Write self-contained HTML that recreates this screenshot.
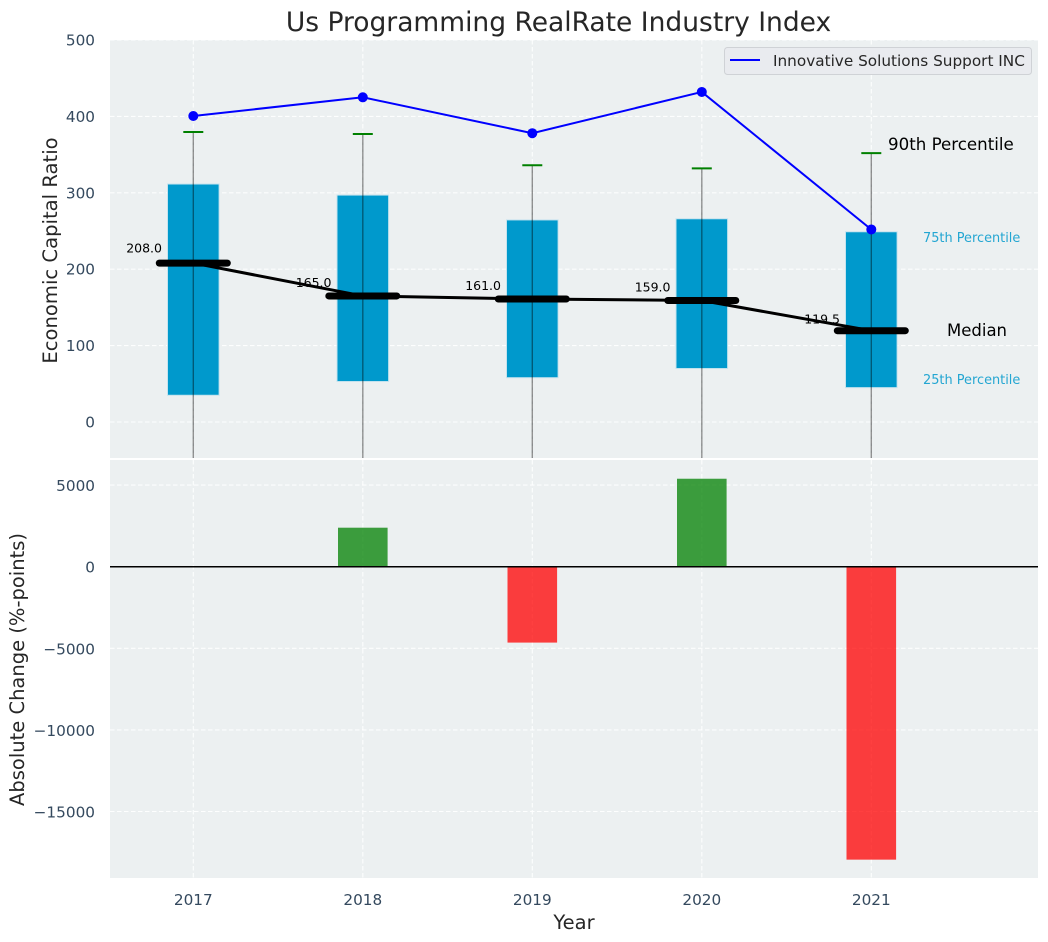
<!DOCTYPE html>
<html lang="en">
<head>
<meta charset="utf-8">
<title>Us Programming RealRate Industry Index</title>
<style>
html,body{margin:0;padding:0;background:#fff;}
svg{display:block;font-family:"DejaVu Sans","Liberation Sans",sans-serif;}
</style>
</head>
<body>
<svg id="chart" xmlns="http://www.w3.org/2000/svg" width="1048" height="942" viewBox="0 0 1048 942">
  <defs>
    <clipPath id="clip-top"><rect x="110" y="40" width="928" height="418"/></clipPath>
    <clipPath id="clip-bottom"><rect x="110" y="460" width="928" height="418"/></clipPath>
  </defs>
  <rect x="0" y="0" width="1048" height="942" fill="#ffffff"/>
  <rect x="110" y="40" width="928" height="418" fill="#ecf0f1"/>
  <rect x="110" y="460" width="928" height="418" fill="#ecf0f1"/>
  <g id="grid-layer"></g>
  <g id="top-layer" clip-path="url(#clip-top)"></g>
  <g id="bottom-layer" clip-path="url(#clip-bottom)"></g>
  <g id="tick-layer"></g>
  <g id="value-label-layer"></g>

  <text x="558.5" y="31" font-size="26.5px" text-anchor="middle" fill="#262626">Us Programming RealRate Industry Index</text>
  <text transform="translate(57,250.5) rotate(-90)" font-size="19.6px" text-anchor="middle" fill="#262626">Economic Capital Ratio</text>
  <text transform="translate(24,669.5) rotate(-90)" font-size="19.5px" text-anchor="middle" fill="#262626">Absolute Change (%-points)</text>
  <text x="574" y="929" font-size="19.5px" text-anchor="middle" fill="#262626">Year</text>

  <text x="888" y="150" font-size="16.67px" fill="#000000">90th Percentile</text>
  <text x="923" y="242" font-size="12.9px" fill="#0099cc" fill-opacity="0.85">75th Percentile</text>
  <text x="947" y="336" font-size="16.5px" fill="#000000">Median</text>
  <text x="923" y="384" font-size="12.9px" fill="#0099cc" fill-opacity="0.85">25th Percentile</text>

  <g>
    <rect x="724.5" y="47.5" width="307" height="27" rx="3" fill="#e9ebef" stroke="#cfd2d6" stroke-width="1"/>
    <line x1="730" y1="60" x2="760" y2="60" stroke="#0000ff" stroke-width="2"/>
    <text x="773" y="66" font-size="15.28px" fill="#262626">Innovative Solutions Support INC</text>
  </g>

<script>
const years = [2017, 2018, 2019, 2020, 2021];
const p90 = [379.5, 377, 336, 332, 352];
const p75 = [311.5, 297, 264.5, 266, 249];
const medians = [208, 165, 161, 159, 119.5];
const medianLabels = ["208.0", "165.0", "161.0", "159.0", "119.5"];
const p25 = [35, 53, 58, 70, 45];
const p10 = [-90, -80, -85, -75, -95];
const companyValues = [400.5, 425, 378, 432, 252];
const changeYears = [2018, 2019, 2020, 2021];
const changeValues = [2390, -4650, 5390, -17950];
const topTicks = [0, 100, 200, 300, 400, 500];
const bottomTicks = [-15000, -10000, -5000, 0, 5000];

const SVGNS = "http://www.w3.org/2000/svg";
const xScale = v => 193.3 + (v - 2017) * 169.5;
const yTop = v => 422 - v * 0.764;
const yBottom = v => 566.7 - v * 0.01632;
const topLayer = document.getElementById("top-layer");
const bottomLayer = document.getElementById("bottom-layer");
const gridLayer = document.getElementById("grid-layer");
const tickLayer = document.getElementById("tick-layer");
const valueLayer = document.getElementById("value-label-layer");

function make(tag, parent, props, content) {
  const el = document.createElementNS(SVGNS, tag);
  Object.keys(props).forEach(k => el.setAttribute(k, props[k]));
  if (content !== undefined) el.textContent = content;
  parent.appendChild(el);
  return el;
}
function fmtTick(v) {
  return v < 0 ? "\u2212" + Math.abs(v) : String(v);
}
const gridStyle = {stroke: "#ffffff", "stroke-width": 1.1, "stroke-dasharray": "4.5 2.5", "stroke-opacity": 0.9};

topTicks.forEach(t => {
  const y = yTop(t);
  const g = make("line", gridLayer, Object.assign({x1: 110, x2: 1038, y1: y, y2: y}, gridStyle));
  
  
  const lab = make("text", tickLayer, {x: 95, y: y + 5.5, "text-anchor": "end", "font-size": "15.28px", fill: "#34495e"}, fmtTick(t));
  
  
});
bottomTicks.forEach(t => {
  const y = yBottom(t);
  const g = make("line", gridLayer, Object.assign({x1: 110, x2: 1038, y1: y, y2: y}, gridStyle));
  
  
  const lab = make("text", tickLayer, {x: 95, y: y + 6, "text-anchor": "end", "font-size": "15.28px", fill: "#34495e"}, fmtTick(t));
  
  
});
years.forEach(yr => {
  const x = xScale(yr);
  const g1 = make("line", gridLayer, Object.assign({x1: x, x2: x, y1: 40, y2: 458}, gridStyle));
  
  
  const g2 = make("line", gridLayer, Object.assign({x1: x, x2: x, y1: 460, y2: 878}, gridStyle));
  
  
  const lab = make("text", tickLayer, {x: x, y: 905, "text-anchor": "middle", "font-size": "15.28px", fill: "#34495e"}, String(yr));
  
  
});

years.forEach((yr, i) => {
  const x = xScale(yr);
  const box = make("rect", topLayer, {x: x - 25.8, width: 51.6, y: yTop(p75[i]), height: yTop(p25[i]) - yTop(p75[i]), fill: "#0099cc", stroke: "#c5e3ee", "stroke-width": 1});
  
  
});
years.forEach((yr, i) => {
  const x = xScale(yr);
  const wh = make("line", topLayer, {x1: x, x2: x, y1: yTop(p90[i]), y2: yTop(p10[i]), stroke: "#000000", "stroke-opacity": 0.42, "stroke-width": 1.4});
  
  
  const cap = make("line", topLayer, {x1: x - 10, x2: x + 10, y1: yTop(p90[i]), y2: yTop(p90[i]), stroke: "#008000", "stroke-width": 2});
  
  
});

const companyLine = make("polyline", topLayer, {points: years.map((yr, i) => xScale(yr) + "," + yTop(companyValues[i])).join(" "), fill: "none", stroke: "#0000ff", "stroke-width": 2});


years.forEach((yr, i) => {
  const pt = make("circle", topLayer, {cx: xScale(yr), cy: yTop(companyValues[i]), r: 5, fill: "#0000ff"});
  
  
});

const medianLine = make("polyline", topLayer, {points: years.map((yr, i) => xScale(yr) + "," + yTop(medians[i])).join(" "), fill: "none", stroke: "#000000", "stroke-width": 3});


years.forEach((yr, i) => {
  const x = xScale(yr);
  const bar = make("line", topLayer, {x1: x - 34, x2: x + 34, y1: yTop(medians[i]), y2: yTop(medians[i]), stroke: "#000000", "stroke-width": 7, "stroke-linecap": "round"});
  
  
  const lab = make("text", valueLayer, {x: x - 31.3, y: yTop(medians[i] * 1.05) - 2.75, "text-anchor": "end", "font-size": "12.5px", fill: "#000000"}, medianLabels[i]);
  
  
});

changeYears.forEach((yr, i) => {
  const x = xScale(yr);
  const v = changeValues[i];
  const y0 = yBottom(0);
  const y1 = yBottom(v);
  const bar = make("rect", bottomLayer, {x: x - 24.8, width: 49.6, y: Math.min(y0, y1), height: Math.abs(y1 - y0), fill: v >= 0 ? "#008000" : "#ff0000", "fill-opacity": 0.75});
  
  
});
const zeroLine = make("line", bottomLayer, {x1: 110, x2: 1038, y1: yBottom(0), y2: yBottom(0), stroke: "#000000", "stroke-width": 1.5});


</script>
</svg>
</body>
</html>
